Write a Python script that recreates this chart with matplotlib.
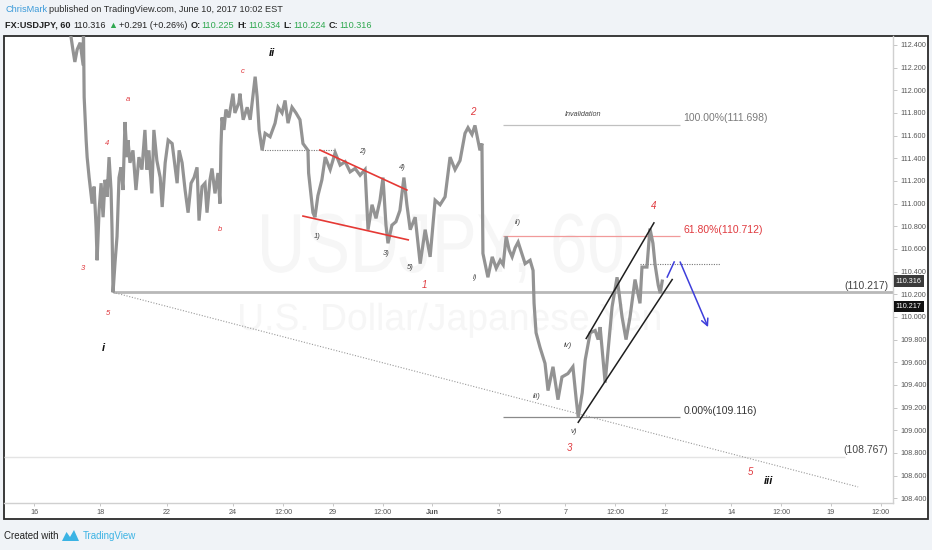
import matplotlib
matplotlib.use("Agg")
import matplotlib.pyplot as plt
from matplotlib.textpath import TextPath
from matplotlib.patches import PathPatch, Rectangle, Polygon
from matplotlib.transforms import Affine2D, blended_transform_factory
from matplotlib.font_manager import FontProperties

W, H = 932, 550
SANS = ["Liberation Sans", "DejaVu Sans"]
plt.rcParams["font.family"] = SANS

# ---- data: USDJPY 60 min, x = trading-day index (May 16 = 0), price ----
price_day = [0.90, 1.05, 1.11, 1.17, 1.23, 1.30, 1.39, 1.48, 1.49, 1.51, 1.57, 1.60, 1.66,
             1.75, 1.81, 1.87, 1.90, 1.96, 2.02, 2.08, 2.14, 2.20, 2.26, 2.32, 2.35, 2.38,
             2.44, 2.50, 2.56, 2.62, 2.68, 2.74, 2.80, 2.83, 2.89, 2.98, 3.07, 3.16, 3.25,
             3.34, 3.40, 3.46, 3.55, 3.61, 3.70, 3.80, 3.86, 3.95, 4.04, 4.16, 4.25, 4.31,
             4.37, 4.46, 4.55, 4.64, 4.73, 4.82, 4.91, 4.97, 5.06, 5.15, 5.21, 5.30, 5.36,
             5.45, 5.54, 5.60, 5.63, 5.66, 5.72, 5.78, 5.87, 5.99, 6.05, 6.17, 6.20, 6.30,
             6.42, 6.51, 6.60, 6.66, 6.72, 6.78, 6.87, 6.96, 7.11, 7.26, 7.35, 7.47, 7.56,
             7.65, 7.77, 7.89, 8.01, 8.10, 8.25, 8.27, 8.40, 8.46, 8.55, 8.67, 8.77, 8.92,
             9.07, 9.22, 9.37, 9.52, 9.67, 9.82, 9.97, 10.06, 10.18, 10.30, 10.42, 10.51,
             10.60, 10.66, 10.78, 10.90, 11.02, 11.14, 11.23, 11.33, 11.48, 11.57, 11.63,
             11.78, 11.93, 12.08, 12.23, 12.38, 12.53, 12.68, 12.83, 12.98, 13.07, 13.19,
             13.28, 13.43, 13.49, 13.52, 13.67, 13.80, 13.92, 14.04, 14.13, 14.22, 14.31,
             14.40, 14.49, 14.58, 14.70, 14.79, 14.94, 15.03, 15.06, 15.12, 15.24, 15.39,
             15.48, 15.63, 15.78, 15.90, 16.08, 16.23, 16.33, 16.39, 16.51, 16.60, 16.75,
             16.90, 16.99, 17.05, 17.20, 17.29, 17.41, 17.56, 17.71, 17.83, 17.95, 18.10,
             18.25, 18.31, 18.46, 18.55, 18.64, 18.70, 18.80, 18.86, 18.92]
price = [112.70, 112.55, 112.48, 112.36, 112.25, 112.36, 112.42, 112.22, 112.53, 111.94,
         111.56, 111.41, 111.23, 111.00, 111.15, 110.79, 110.50, 110.94, 111.18, 110.88,
         111.21, 111.06, 111.41, 111.12, 110.77, 110.217, 110.48, 110.71, 111.23, 111.32,
         111.12, 111.72, 111.41, 111.56, 111.36, 111.47, 111.12, 111.41, 111.30, 111.65,
         111.30, 111.47, 111.09, 111.65, 111.38, 111.23, 110.97, 111.36, 111.56, 111.53,
         111.32, 111.18, 111.47, 111.36, 111.12, 110.92, 111.18, 111.23, 111.32, 110.85,
         111.15, 111.18, 110.92, 111.21, 111.31, 111.09, 111.27, 111.00, 111.50, 111.76,
         111.65, 111.83, 111.76, 111.97, 111.80, 111.89, 111.97, 111.74, 111.85, 111.74,
         111.97, 112.12, 111.94, 111.65, 111.47, 111.62, 111.59, 111.71, 111.85, 111.80,
         111.91, 111.71, 111.85, 111.80, 111.74, 111.53, 111.47, 111.27, 110.92, 110.88,
         111.07, 111.21, 111.41, 111.30, 111.45, 111.34, 111.37, 111.28, 111.31, 111.25,
         111.30, 110.77, 110.99, 110.87, 111.03, 111.23, 110.81, 110.65, 110.81, 110.84,
         110.94, 111.23, 110.99, 110.77, 110.88, 110.63, 110.47, 110.77, 110.53, 111.03,
         110.99, 111.06, 111.41, 111.30, 111.38, 111.62, 111.67, 111.61, 111.69, 111.47,
         111.53, 110.56, 110.35, 110.53, 110.43, 110.50, 110.46, 110.71, 110.59, 110.53,
         110.61, 110.66, 110.55, 110.47, 110.50, 110.41, 110.12, 109.86, 109.73, 109.59,
         109.35, 109.56, 109.27, 109.47, 109.50, 109.56, 109.27, 109.116, 109.33, 109.62,
         109.86, 109.88, 109.80, 109.91, 109.42, 109.71, 110.09, 110.35, 110.00, 109.80,
         110.00, 110.33, 110.12, 110.44, 110.44, 110.78, 110.65, 110.47, 110.28, 110.21,
         110.316]

x_ticks = [0, 2, 4, 6, 7.5, 9, 10.5, 12, 14, 16, 17.5, 19, 21, 22.5, 24, 25.5]
x_labels = ["16", "18", "22", "24", "12:00", "29", "12:00", "Jun", "5", "7", "12:00",
            "12", "14", "12:00", "19", "12:00"]
y_ticks = [108.4, 108.6, 108.8, 109.0, 109.2, 109.4, 109.6, 109.8, 110.0, 110.2,
           110.4, 110.6, 110.8, 111.0, 111.2, 111.4, 111.6, 111.8, 112.0, 112.2, 112.4]

fib_levels = [111.698, 110.712, 109.116]
fib_names = ["100.00%", "61.80%", "0.00%"]
fib_start, fib_end = 14.13, 19.46

wave1_low = 110.217
low_line = 108.767
last_close = 110.316

# (text, day, price, kind)
wave_labels = [
    ("3", 1.48, 110.43, "red"), ("4", 2.20, 111.53, "red"), ("a", 2.83, 111.92, "red"),
    ("5", 2.23, 110.03, "red"), ("i", 2.08, 109.73, "major"), ("b", 5.60, 110.77, "red"),
    ("c", 6.27, 112.17, "red"), ("ii", 7.17, 112.33, "major"), ("2", 13.22, 111.81, "redbig"),
    ("1", 11.75, 110.28, "redbig"), ("1)", 8.52, 110.71, "minor"), ("2)", 9.88, 111.46, "minor"),
    ("3)", 10.60, 110.56, "minor"), ("4)", 11.08, 111.32, "minor"), ("5)", 11.33, 110.44, "minor"),
    ("i)", 13.28, 110.35, "minor"), ("ii)", 14.58, 110.83, "minor"), ("iii)", 15.15, 109.30, "minor"),
    ("iv)", 16.08, 109.75, "minor"), ("v)", 16.27, 108.99, "minor"), ("3", 16.14, 108.84, "redbig"),
    ("4", 18.67, 110.98, "redbig"), ("5", 21.57, 108.63, "redbig"), ("iii", 22.11, 108.55, "major"),
]

# ---- figure ----
fig = plt.figure(figsize=(W / 100, H / 100), dpi=100, facecolor="#f0f3f7")


def fx(px):
    return px / W


def fy(py):
    return 1 - py / H


fig.patches.append(Rectangle((fx(4), fy(519)), fx(928) - fx(4), fy(36) - fy(519),
                             transform=fig.transFigure, fc="white", ec="#2b2b2b", lw=1.3,
                             zorder=-5))

ax = fig.add_axes([fx(4), fy(503), fx(893) - fx(4), fy(36) - fy(503)])
ax.set_facecolor("none")
ax.set_xlim(-0.904, 25.87)
ax.set_ylim(108.358, 112.479)
for s in ["top", "left"]:
    ax.spines[s].set_visible(False)
for s in ["right", "bottom"]:
    ax.spines[s].set_color("#d0d0d0")
    ax.spines[s].set_linewidth(1.0)

ax.set_xticks(x_ticks)
ax.set_xticklabels(x_labels)
for lab in ax.get_xticklabels():
    if lab.get_text() == "Jun":
        lab.set_fontweight("bold")
ax.yaxis.tick_right()
ax.set_yticks(y_ticks)
ax.set_yticklabels(["%.3f" % v for v in y_ticks])
ax.tick_params(axis="x", length=2.5, width=0.6, color="#bdbdbd", labelsize=5.2,
               labelcolor="#555555", pad=2)
ax.tick_params(axis="y", length=3, width=0.6, color="#bdbdbd", labelsize=5.2,
               labelcolor="#555555", pad=2)

# faint symbol watermark


def watermark(text, x0, x1, base, cap, color):
    tp = TextPath((0, 0), text, size=100, prop=FontProperties(family="Liberation Sans"))
    ext = tp.get_extents()
    sx = (x1 - x0) / ext.width
    sy = cap / 71.6
    tr = Affine2D().translate(-ext.x0, 0).scale(sx, sy).translate(x0, H - base)
    ax.add_patch(PathPatch(tp, transform=tr, fc=color, ec="none", zorder=0.2))


watermark("USDJPY, 60", 262, 622, 272, 60, "#f6f6f6")
watermark("U.S. Dollar/Japanese Yen", 240, 660, 330, 27, "#f6f6f6")

# reference lines
ax.hlines(low_line, -0.904, 24.43, color="#e4e4e4", lw=1.0, zorder=1)
ax.hlines(wave1_low, 2.38, 25.87, color="#b8b8b8", lw=2.0, zorder=1)
ax.plot([2.38, 24.82], [wave1_low, 108.50], color="#9a9a9a", lw=0.8,
        linestyle=(0, (1, 1.5)), zorder=1)
ax.hlines(111.47, 6.87, 9.07, color="#777777", lw=0.8, linestyles=(0, (1, 1.2)), zorder=1)
ax.hlines(110.467, 18.25, 20.66, color="#777777", lw=0.8, linestyles=(0, (1, 1.2)), zorder=1)

fib_line_colors = ["#c0c0c0", "#f19a9a", "#8a8a8a"]
fib_text_colors = ["#7a7a7a", "#e0393e", "#333333"]
for lvl, nm, lc, tc in zip(fib_levels, fib_names, fib_line_colors, fib_text_colors):
    ax.hlines(lvl, fib_start, fib_end, color=lc, lw=0.9, zorder=1)
    ax.text(fib_end + 0.1, lvl + 0.01, "%s(%.3f)" % (nm, lvl), color=tc, fontsize=7.5,
            va="bottom", ha="left")
ax.text(16.54, 111.79, "Invalidation", color="#444444", fontsize=5.2, style="italic",
        ha="center", va="center")

ax.plot(price_day, price, color="#939393", lw=2.3, zorder=2, solid_joinstyle="miter")

# wedge (red) and channel (black)
ax.plot([8.61, 11.23], [111.473, 111.12], color="#e53935", lw=1.2, zorder=3)
ax.plot([8.10, 11.27], [110.89, 110.68], color="#e53935", lw=1.2, zorder=3)
ax.plot([16.63, 18.67], [109.81, 110.83], color="#1e1e1e", lw=1.1, zorder=3)
ax.plot([16.39, 19.22], [109.07, 110.33], color="#1e1e1e", lw=1.1, zorder=3)

# projected path (blue)
ax.plot([19.07, 19.28], [110.352, 110.485], color="#3e3edb", lw=1.1, zorder=3)
ax.annotate("", xy=(20.30, 109.91), xytext=(19.46, 110.485),
            arrowprops=dict(arrowstyle="->", color="#3e3edb", lw=1.1, mutation_scale=12,
                            shrinkA=0, shrinkB=0), zorder=3)

for txt, d, p, kind in wave_labels:
    if kind == "red":
        ax.text(d, p, txt, color="#e0393e", fontsize=5.5, style="italic", ha="center",
                va="center", zorder=4)
    elif kind == "redbig":
        ax.text(d, p, txt, color="#e0393e", fontsize=7, style="italic", ha="center",
                va="center", zorder=4)
    elif kind == "major":
        ax.text(d, p, txt, color="#111111", fontsize=8, style="italic", weight="bold",
                ha="center", va="center", zorder=4)
    else:
        ax.text(d, p, txt, color="#444444", fontsize=5.5, style="italic", ha="center",
                va="center", zorder=4)

ax.text(25.72, wave1_low + 0.012, "(%.3f)" % wave1_low, color="#444444", fontsize=7.5,
        ha="right", va="bottom")
ax.text(25.72, low_line + 0.012, "(%.3f)" % low_line, color="#444444", fontsize=7.5,
        ha="right", va="bottom")

# price boxes on the right scale
bt = blended_transform_factory(ax.transAxes, ax.transData)
ax.text(1.003, last_close, "%.3f" % last_close, transform=bt, color="white", fontsize=5.2,
        ha="left", va="center", clip_on=False,
        bbox=dict(boxstyle="square,pad=0.3", fc="#3a3a3a", ec="none"))
ax.annotate("%.3f" % wave1_low, xy=(1.003, wave1_low), xycoords=bt, xytext=(0, -10),
            textcoords="offset points", color="white", fontsize=5.2, ha="left",
            va="center", annotation_clip=False,
            bbox=dict(boxstyle="square,pad=0.3", fc="#111111", ec="none"))

# header, pieces laid out one after the other
renderer = fig.canvas.get_renderer()
green = "#2fa84f"
ink = "#222222"


def text_row(pieces, y, size=6.6):
    x = 5
    for t, c, w, gap in pieces:
        tx = fig.text(fx(x), fy(y), t, color=c, weight=w, fontsize=size, va="center")
        x = tx.get_window_extent(renderer).x1 + gap


text_row([("ChrisMark", "#3b9ad9", "normal", 2),
          ("published on TradingView.com, June 10, 2017 10:02 EST", "#2b2b2b", "normal", 0)], 10)
text_row([("FX:USDJPY, 60", ink, "bold", 3), ("110.316", ink, "normal", 2),
          ("\u25b2", green, "normal", 2), ("+0.291 (+0.26%)", ink, "normal", 3),
          ("O:", ink, "bold", 1), ("110.225", green, "normal", 3),
          ("H:", ink, "bold", 1), ("110.334", green, "normal", 3),
          ("L:", ink, "bold", 1), ("110.224", green, "normal", 3),
          ("C:", ink, "bold", 1), ("110.316", green, "normal", 0)], 25)

# footer
fig.text(fx(4), fy(536), "Created with", color=ink, fontsize=7, va="center")
fig.patches.append(Polygon([(fx(62), fy(541)), (fx(66.5), fy(532)), (fx(70), fy(537)),
                            (fx(74), fy(530)), (fx(79), fy(541))], closed=True,
                           transform=fig.transFigure, fc="#3bb3e4", ec="none"))
fig.text(fx(83), fy(536), "TradingView", color="#3bb3e4", fontsize=7, va="center")

fig.savefig("out.png", dpi=100, facecolor=fig.get_facecolor())
